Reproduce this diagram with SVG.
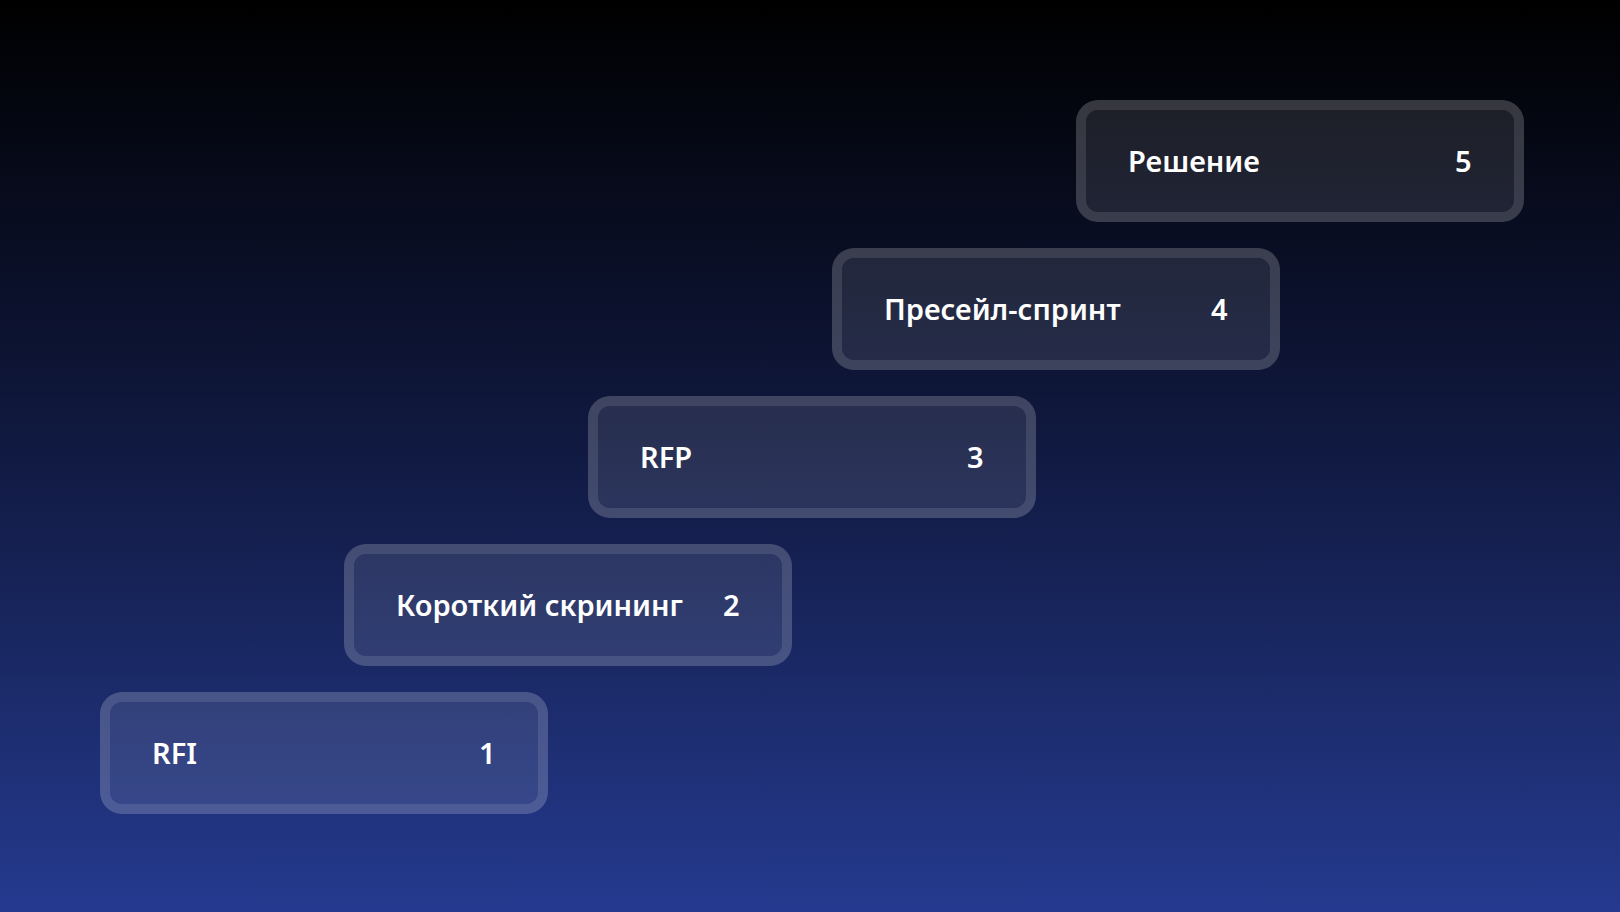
<svg xmlns="http://www.w3.org/2000/svg" width="1620" height="912" viewBox="0 0 1620 912">
<defs>
<linearGradient id="bg" x1="0" y1="0" x2="0" y2="1">
<stop offset="0" stop-color="#000000"/>
<stop offset="0.5" stop-color="#111a42"/>
<stop offset="1" stop-color="#253a8f"/>
</linearGradient>
<path id="ring" fill-rule="evenodd" d="M22,0 H426 A22,22 0 0 1 448,22 V100 A22,22 0 0 1 426,122 H22 A22,22 0 0 1 0,100 V22 A22,22 0 0 1 22,0 Z M22,10 H426 A12,12 0 0 1 438,22 V100 A12,12 0 0 1 426,112 H22 A12,12 0 0 1 10,100 V22 A12,12 0 0 1 22,10 Z"/>
<rect id="face" x="10" y="10" width="428" height="102" rx="12"/>
<style>
.border{fill:#ffffff;fill-opacity:0.2}
.fill{fill:#ffffff;fill-opacity:0.1}
.lbl{font-family:"Noto Sans","Open Sans","Liberation Sans",sans-serif;font-weight:600;font-size:29px;fill:#ffffff}
</style>
</defs>
<rect width="1620" height="912" fill="url(#bg)"/>
<g id="connectors"/>
<g id="node1" transform="translate(100,692)">
<use href="#ring" class="border"/>
<use href="#face" class="fill"/>
<text class="lbl" x="52" y="72">RFI</text>
<text class="lbl" x="379" y="72">1</text>
</g>
<g id="node2" transform="translate(344,544)">
<use href="#ring" class="border"/>
<use href="#face" class="fill"/>
<text class="lbl" x="52" y="72">Короткий скрининг</text>
<text class="lbl" x="379" y="72">2</text>
</g>
<g id="node3" transform="translate(588,396)">
<use href="#ring" class="border"/>
<use href="#face" class="fill"/>
<text class="lbl" x="52" y="72">RFP</text>
<text class="lbl" x="379" y="72">3</text>
</g>
<g id="node4" transform="translate(832,248)">
<use href="#ring" class="border"/>
<use href="#face" class="fill"/>
<text class="lbl" x="52" y="72">Пресейл-спринт</text>
<text class="lbl" x="379" y="72">4</text>
</g>
<g id="node5" transform="translate(1076,100)">
<use href="#ring" class="border"/>
<use href="#face" class="fill"/>
<text class="lbl" x="52" y="72">Решение</text>
<text class="lbl" x="379" y="72">5</text>
</g>
</svg>
